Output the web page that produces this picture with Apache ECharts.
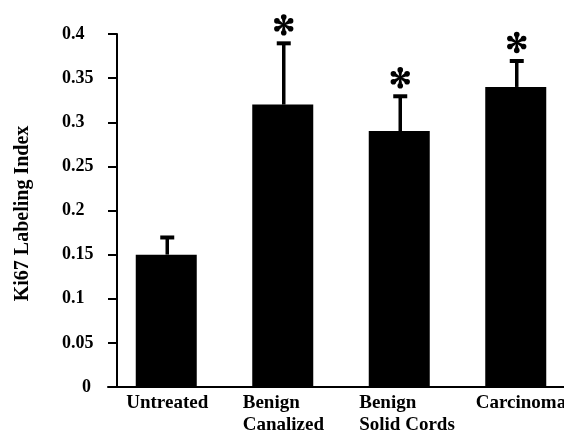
<!DOCTYPE html>
<html>
<head>
<meta charset="utf-8">
<script src="https://cdn.jsdelivr.net/npm/echarts@6/dist/echarts.min.js"></script>
<style>html,body{margin:0;padding:0;background:#fff;overflow:hidden;width:564px;height:440px;}#c{width:574px;height:440px;}</style>
</head>
<body>
<div id="c"></div>
<script>
var categories = ['Untreated', 'Benign\nCanalized', 'Benign\nSolid Cords', 'Carcinoma'];
var means = [0.15, 0.32, 0.29, 0.34];
var upperErrors = [0.17, 0.39, 0.33, 0.37];
var significant = [false, true, true, true];
var yTickLabels = ['0', '0.05', '0.1', '0.15', '0.2', '0.25', '0.3', '0.35', '0.4'];
var yAxisTitle = 'Ki67 Labeling Index';

var FONT = '"Liberation Serif", "Times New Roman", serif';

var errData = categories.map(function (c, i) { return [i, means[i], upperErrors[i], significant[i] ? 1 : 0]; });

function asteriskShapes(cx, cy) {
  var out = [];
  var angles = [90, 270, 30, 150, 210, 330];
  angles.forEach(function (a) {
    var r = a * Math.PI / 180;
    var ux = Math.cos(r), uy = -Math.sin(r);
    var px = -uy, py = ux;
    function pt(al, pe) { return [cx + ux * al + px * pe, cy + uy * al + py * pe]; }
    out.push({ type: 'polygon', shape: { points: [pt(0, -0.8), pt(6, -1.8), pt(6, 1.8), pt(0, 0.8)] }, style: { fill: '#000' } });
    var c = pt(7.9, 0);
    out.push({ type: 'circle', shape: { cx: c[0], cy: c[1], r: 2.8 }, style: { fill: '#000' } });
  });
  return out;
}

var chart = echarts.init(document.getElementById('c'), null, { renderer: 'canvas' });
chart.setOption({
  animation: false,
  backgroundColor: '#fff',
  grid: { left: 108, right: 0, top: 34, bottom: 53, containLabel: false },
  xAxis: {
    type: 'category',
    data: categories,
    axisLine: { show: true, lineStyle: { color: '#000', width: 2 } },
    axisTick: { show: false },
    axisLabel: {
      margin: 5,
      interval: 0,
      formatter: function (v) {
        return v.split('\n').map(function (s) { return '{a|' + s + '}'; }).join('\n');
      },
      rich: {
        a: { width: 80, align: 'left', fontFamily: FONT, fontWeight: 'bold', fontSize: 19, lineHeight: 22, color: '#000' }
      }
    }
  },
  yAxis: {
    type: 'value',
    min: 0,
    max: 0.4,
    interval: 0.05,
    offset: -9,
    name: yAxisTitle,
    nameLocation: 'middle',
    nameGap: 84,
    nameTextStyle: { fontFamily: FONT, fontWeight: 'bold', fontSize: 20, color: '#000', padding: [0, 6, 0, 0] },
    axisLine: { show: true, lineStyle: { color: '#000', width: 2 } },
    axisTick: { show: true, inside: false, length: 9, lineStyle: { color: '#000', width: 2 } },
    splitLine: { show: false },
    axisLabel: {
      margin: 55,
      align: 'left',
      fontFamily: FONT, fontWeight: 'bold', fontSize: 18, color: '#000',
      formatter: function (v, idx) {
        var s = yTickLabels[idx] !== undefined ? yTickLabels[idx] : String(v);
        return s === '0' ? '{z|' + s + '}' : s;
      },
      rich: {
        z: { padding: [0, 0, 0, 20], fontFamily: FONT, fontWeight: 'bold', fontSize: 18, color: '#000' }
      }
    }
  },
  series: [
    {
      type: 'bar',
      data: means,
      barWidth: 61,
      itemStyle: { color: '#000' }
    },
    {
      type: 'custom',
      data: errData,
      z: 5,
      renderItem: function (params, api) {
        var top = api.coord([api.value(0), api.value(1)]);
        var up = api.coord([api.value(0), api.value(2)]);
        var x = top[0] + 1;
        var children = [
          { type: 'line', shape: { x1: x, y1: top[1], x2: x, y2: up[1] }, style: { stroke: '#000', lineWidth: 3.5 } },
          { type: 'rect', shape: { x: x - 7, y: up[1] - 1.5, width: 14, height: 4 }, style: { fill: '#000' } }
        ];
        if (api.value(3)) {
          children = children.concat(asteriskShapes(x, up[1] - 18));
        }
        return { type: 'group', children: children };
      }
    }
  ]
});
</script>
</body>
</html>
